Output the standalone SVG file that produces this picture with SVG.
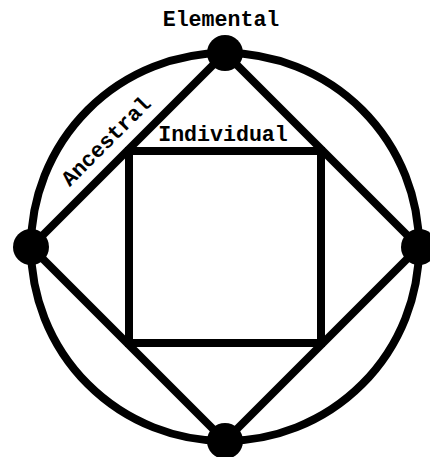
<svg xmlns="http://www.w3.org/2000/svg" width="430" height="457" viewBox="0 0 430 457">
<style>
.ln{fill:none;stroke:#000;stroke-width:8}
.dot{fill:#000}
.lbl{font-family:"Liberation Mono","Courier New",monospace;font-weight:bold;font-size:21.6px;fill:#000;text-anchor:middle}
</style>
<rect width="430" height="457" fill="#fff"/>
<g id="connectors">
<circle class="ln" cx="225" cy="247" r="194"/>
<line class="ln" x1="225" y1="53" x2="31" y2="247"/>
<line class="ln" x1="225" y1="53" x2="419" y2="247"/>
<line class="ln" x1="31" y1="247" x2="225" y2="441"/>
<line class="ln" x1="419" y1="247" x2="225" y2="441"/>
<text class="lbl" transform="translate(111,146) rotate(-45)">Ancestral</text>
</g>
<g id="individual">
<rect class="ln" x="129" y="151" width="192" height="192"/>
<text class="lbl" x="223" y="141">Individual</text>
</g>
<g id="elemental">
<circle class="dot" cx="225" cy="53" r="18"/>
<text class="lbl" x="221" y="26">Elemental</text>
</g>
<g id="node-left"><circle class="dot" cx="31" cy="247" r="18"/></g>
<g id="node-right"><circle class="dot" cx="419" cy="247" r="18"/></g>
<g id="node-bottom"><circle class="dot" cx="225" cy="441" r="18"/></g>
</svg>
